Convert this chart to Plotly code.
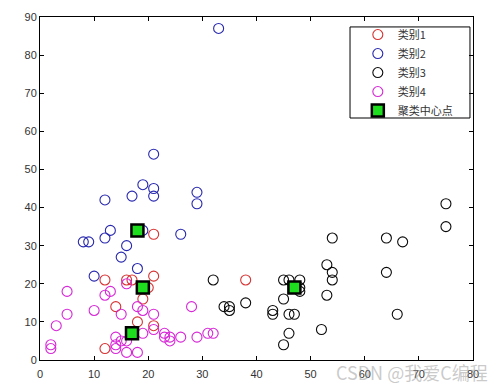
import plotly.graph_objects as go

# Data
c1_x = [21, 12, 16, 17, 21, 20, 19, 14, 18, 21, 12, 38]
c1_y = [33, 21, 21, 21, 22, 19, 16, 14, 10, 9, 3, 21]

c2_x = [33, 21, 19, 21, 21, 17, 12, 29, 29, 13, 12, 8, 9, 19, 26, 16, 15, 18, 10]
c2_y = [87, 54, 46, 45, 43, 43, 42, 44, 41, 34, 32, 31, 31, 34, 33, 30, 27, 24, 22]

c3_x = [32, 45, 46, 48, 48, 48, 34, 35, 35, 38, 43, 43, 45, 46, 47, 46, 45, 52,
        75, 75, 54, 64, 67, 53, 54, 54, 64, 53, 66]
c3_y = [21, 21, 21, 21, 19, 18, 14, 14, 13, 15, 13, 12, 16, 12, 12, 7, 4, 8,
        41, 35, 32, 32, 31, 25, 23, 21, 23, 17, 12]

c4_x = [16, 5, 12, 13, 18, 19, 10, 5, 15, 21, 28, 21, 19, 14, 15, 16, 14, 14, 16, 18,
        3, 2, 2, 23, 23, 24, 24, 26, 29, 31, 32]
c4_y = [20, 18, 17, 18, 14, 13, 13, 12, 12, 12, 14, 8, 7, 6, 5, 5, 4, 3, 2, 2,
        9, 4, 3, 7, 6, 6, 5, 6, 6, 7, 7]

cent_x = [19, 18, 47, 17]
cent_y = [19, 34, 19, 7]

names = ["类别1", "类别2", "类别3", "类别4", "聚类中心点"]
colors = ["rgb(215,50,50)", "rgb(40,40,175)", "rgb(10,10,10)", "rgb(215,40,215)"]

x_ticks = [0, 10, 20, 30, 40, 50, 60, 70, 80]
y_ticks = [0, 10, 20, 30, 40, 50, 60, 70, 80, 90]

fig = go.Figure()
for xs, ys, nm, col in zip([c1_x, c2_x, c3_x, c4_x], [c1_y, c2_y, c3_y, c4_y], names[:4], colors):
    fig.add_trace(go.Scatter(
        x=xs, y=ys, mode="markers", name=nm,
        marker=dict(symbol="circle-open", size=10, color=col, line=dict(width=1.1, color=col)),
    ))
fig.add_trace(go.Scatter(
    x=cent_x, y=cent_y, mode="markers", name=names[4],
    marker=dict(symbol="square", size=12, color="rgb(30,220,30)", line=dict(width=2.5, color="black")),
))

axis_common = dict(
    showline=True, linecolor="black", linewidth=1, mirror="ticks",
    ticks="inside", ticklen=4, tickcolor="black",
    showgrid=False, zeroline=False, automargin=False,
    tickfont=dict(family="Liberation Sans, Arial, sans-serif", size=11, color="#333333"),
)
fig.update_xaxes(range=[0, 80], tickvals=x_ticks, ticklabelstandoff=4, **axis_common)
fig.update_yaxes(range=[0, 90], tickvals=y_ticks, **axis_common)

fig.update_layout(
    width=492, height=381,
    margin=dict(l=32, r=27, t=9, b=29, autoexpand=False),
    paper_bgcolor="white", plot_bgcolor="white",
    font=dict(family="Noto Sans CJK SC, Liberation Sans, sans-serif", size=11, color="#333333"),
    legend=dict(
        x=0.734, y=0.838, xanchor="left", yanchor="middle",
        borderwidth=0, bgcolor="rgba(0,0,0,0)",
        font=dict(size=11, color="#333333"),
        tracegroupgap=0, itemsizing="trace",
    ),
    shapes=[dict(
        type="rect", xref="paper", yref="paper",
        x0=0.716, x1=0.993, y0=0.7055, y1=0.971,
        line=dict(color="black", width=1), fillcolor="white", layer="below",
    )],
    showlegend=True,
    annotations=[dict(
        text="CSDN @我爱C编程", x=1.039, y=0, xref="paper", yref="paper",
        xanchor="right", yanchor="middle", yshift=-12, showarrow=False,
        font=dict(size=18, color="rgba(150,150,150,0.5)",
                  family="Noto Sans CJK SC, Liberation Sans, sans-serif"),
    )],
)

fig.write_html("out.html")
